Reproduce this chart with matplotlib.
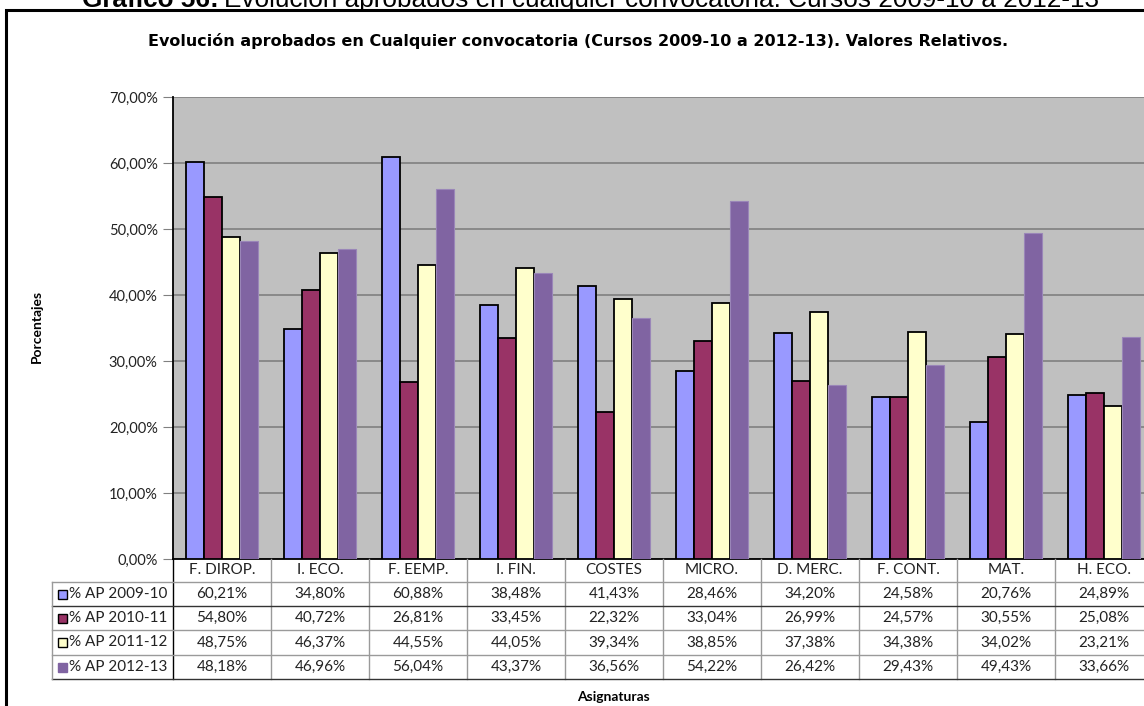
import matplotlib.pyplot as plt
import numpy as np
from matplotlib.transforms import blended_transform_factory
from matplotlib.lines import Line2D
from matplotlib.patches import Rectangle

# Asignaturas y porcentajes de aprobados por curso
asignaturas = ['F. DIROP.', 'I. ECO.', 'F. EEMP.', 'I. FIN.', 'COSTES',
               'MICRO.', 'D. MERC.', 'F. CONT.', 'MAT.', 'H. ECO.']
cursos = ['% AP 2009-10', '% AP 2010-11', '% AP 2011-12', '% AP 2012-13']
ap_2009_10 = [60.21, 34.80, 60.88, 38.48, 41.43, 28.46, 34.20, 24.58, 20.76, 24.89]
ap_2010_11 = [54.80, 40.72, 26.81, 33.45, 22.32, 33.04, 26.99, 24.57, 30.55, 25.08]
ap_2011_12 = [48.75, 46.37, 44.55, 44.05, 39.34, 38.85, 37.38, 34.38, 34.02, 23.21]
ap_2012_13 = [48.18, 46.96, 56.04, 43.37, 36.56, 54.22, 26.42, 29.43, 49.43, 33.66]
series = [ap_2009_10, ap_2010_11, ap_2011_12, ap_2012_13]
colores = ['#9999FF', '#993366', '#FFFFCC', '#8064A2']
bordes = ['black', 'black', 'black', '#9A86B8']
yticks = [0, 10, 20, 30, 40, 50, 60, 70]

W, H = 1144, 706
fig = plt.figure(figsize=(W / 100, H / 100), dpi=100)
plt.rcParams['font.family'] = ['Lato', 'DejaVu Sans']


def fx(px):
    return px / W


def fy(py):
    return 1 - py / H


# marco del grafico
fig.add_artist(Rectangle((fx(6), fy(800)), fx(1200), fy(10) - fy(800),
                         transform=fig.transFigure, fill=False,
                         edgecolor='black', lw=2.2))

# titulo del documento, cortado por el borde superior
renderer = fig.canvas.get_renderer()
t1 = fig.text(fx(82), fy(7), 'Gráfico 56:', ha='left', va='baseline',
              fontsize=18.8, fontweight='bold',
              family=['Liberation Sans', 'DejaVu Sans'])
bb = t1.get_window_extent(renderer)
fig.text(bb.x1 / W + fx(5), fy(7),
         'Evolución aprobados en cualquier convocatoria. Cursos 2009-10 a 2012-13',
         ha='left', va='baseline', fontsize=18.8,
         family=['Liberation Sans', 'DejaVu Sans'])

cell_w = 98
left, top, bottom = 173, 97, 559
ax = fig.add_axes([fx(left), fy(bottom), fx(cell_w * 10), (bottom - top) / H])
ax.set_facecolor('#C0C0C0')

x = np.arange(len(asignaturas))
bw = 0.184
for i, (vals, c, e) in enumerate(zip(series, colores, bordes)):
    ax.bar(x + (i - 1.5) * bw, vals, bw, color=c, edgecolor=e,
           linewidth=1.3 if e == 'black' else 0.8, zorder=3)

ax.set_xlim(-0.5, len(asignaturas) - 0.5)
ax.set_ylim(0, 70)
ax.set_yticks(yticks)
ax.set_yticklabels([f'{v:.2f}%'.replace('.', ',') for v in yticks], fontsize=10.5)
ax.yaxis.grid(True, color='#808080', lw=1.2, zorder=1)
ax.set_xticks([])
ax.tick_params(axis='y', length=7, color='#808080', pad=4, colors='#222222')
for s in ['top', 'right']:
    ax.spines[s].set_visible(False)
ax.spines['left'].set_color('black')
ax.spines['left'].set_linewidth(1.3)
ax.spines['bottom'].set_color('black')
ax.spines['bottom'].set_linewidth(1.3)

fig.text(fx(578), fy(41), 'Evolución aprobados en Cualquier convocatoria (Cursos 2009-10 a 2012-13). Valores Relativos.',
         ha='center', va='center', fontsize=11.5, fontweight='bold',
         family=['DejaVu Sans'])
fig.text(fx(37), fy(326), 'Porcentajes', rotation=90, ha='center', va='center',
         fontsize=10, fontweight='bold')
fig.text(fx(613), fy(697), 'Asignaturas', ha='center', va='center',
         fontsize=10, fontweight='bold')

# tabla de datos bajo el eje
tr = blended_transform_factory(ax.transData, fig.transFigure)
rows = [559, 582, 606, 630, 655, 679]
tab_left = 52
grey = '#9A9A9A'
for k in range(len(asignaturas) + 1):
    xb = k - 0.5
    fig.add_artist(Line2D([xb, xb], [fy(559), fy(679)], transform=tr,
                          color='black' if k == 0 else grey, lw=1.0))
for j, yr in enumerate(rows[1:]):
    dark = j in (1, 4)
    fig.add_artist(Line2D([fx(tab_left), fx(1200)], [fy(yr), fy(yr)],
                          transform=fig.transFigure,
                          color='#333333' if dark else grey, lw=1.0))
fig.add_artist(Line2D([fx(tab_left), fx(tab_left)], [fy(582), fy(679)],
                      transform=fig.transFigure, color=grey, lw=1.0))

for k, name in enumerate(asignaturas):
    fig.text(k, fy(570), name, transform=tr, ha='center', va='center',
             fontsize=11, color='#222222')
for j, (vals, c, nombre) in enumerate(zip(series, colores, cursos)):
    yc = (rows[j + 1] + rows[j + 2]) / 2
    fig.add_artist(Rectangle((fx(58), fy(yc + 4.5)), fx(9), 9 / H,
                             transform=fig.transFigure, facecolor=c,
                             edgecolor='black' if j < 3 else c, lw=1.0))
    fig.text(fx(69), fy(yc), nombre, ha='left', va='center', fontsize=11,
             color='#222222')
    for k, v in enumerate(vals):
        fig.text(k, fy(yc), f'{v:.2f}%'.replace('.', ','), transform=tr,
                 ha='center', va='center', fontsize=11, color='#222222')

fig.savefig('out.png', dpi=100)
